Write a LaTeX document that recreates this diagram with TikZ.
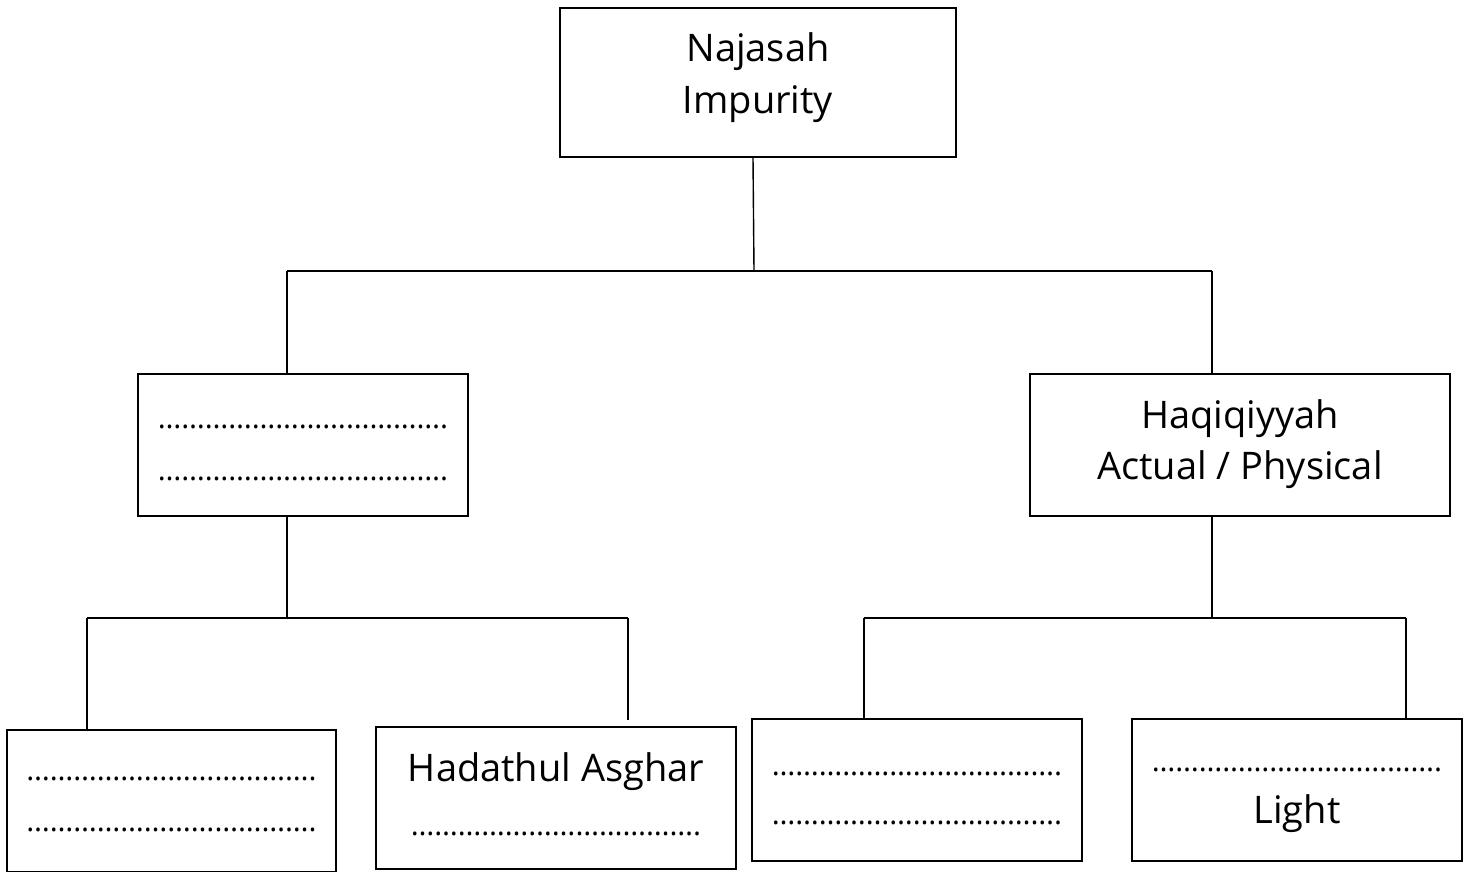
\documentclass[tikz,border=0pt]{standalone}
\usepackage{fontspec}
\setmainfont{Open Sans}
\newcommand\dotrow{{\fontsize{30}{51}\selectfont ……………………………….}}
\newcommand\sh[2]{\raisebox{#1}[\height][\depth]{#2}}
\begin{document}
\begin{tikzpicture}[x=1pt,y=-1pt,
  box/.style={draw, line width=1.6pt, inner sep=0pt, align=center,
    font=\fontsize{38}{52}\selectfont},
  conn/.style={line width=1.4pt}]
\useasboundingbox (0,0) rectangle (1470,871);
% boxes
\node[box, minimum width=396pt, minimum height=149pt] (top) at (758,82.5) {\sh{5pt}{Najasah}\\\sh{5pt}{Impurity}};
\node[box, minimum width=330pt, minimum height=142pt] (ml) at (303,445) {\sh{-8pt}{\dotrow}\\\sh{-8pt}{\dotrow}};
\node[box, minimum width=420pt, minimum height=142pt] (mr) at (1240,445) {Haqiqiyyah\\\sh{1pt}{Actual / Physical}};
\node[box, minimum width=329pt, minimum height=142pt] (b1) at (171.5,801) {\sh{-4pt}{\dotrow}\\\sh{-3pt}{\dotrow}};
\node[box, minimum width=360pt, minimum height=142pt] (b2) at (556,798) {\sh{5pt}{Hadathul Asghar}\\\sh{3pt}{\dotrow}};
\node[box, minimum width=330pt, minimum height=142pt] (b3) at (917,790) {\sh{-10pt}{\dotrow}\\\sh{-7pt}{\dotrow}};
\node[box, minimum width=330pt, minimum height=142pt] (b4) at (1297,790) {\sh{-10pt}{\dotrow}\\\sh{-10pt}{Light}};
% connector coordinates
\coordinate (j0) at (754,271);
\coordinate (jl) at (287,271);
\coordinate (jr) at (1212,271);
\coordinate (k0) at (287,618);
\coordinate (kl) at (87,618);
\coordinate (kr) at (628,618);
\coordinate (m0) at (1212,618);
\coordinate (ml2) at (864,618);
\coordinate (mr2) at (1406,618);
% connectors
\draw[conn] (top.south -| 753,0) -- (j0);
\draw[conn] (jl) -- (jr);
\draw[conn] (jl) -- (jl |- ml.north);
\draw[conn] (jr) -- (jr |- mr.north);
\draw[conn] (ml.south -| k0) -- (k0);
\draw[conn] (kl) -- (kr);
\draw[conn] (kl) -- (kl |- b1.north);
\draw[conn] (kr) -- (628,720);
\draw[conn] (mr.south -| m0) -- (m0);
\draw[conn] (ml2) -- (mr2);
\draw[conn] (ml2) -- (ml2 |- b3.north);
\draw[conn] (mr2) -- (mr2 |- b4.north);
\end{tikzpicture}
\end{document}
